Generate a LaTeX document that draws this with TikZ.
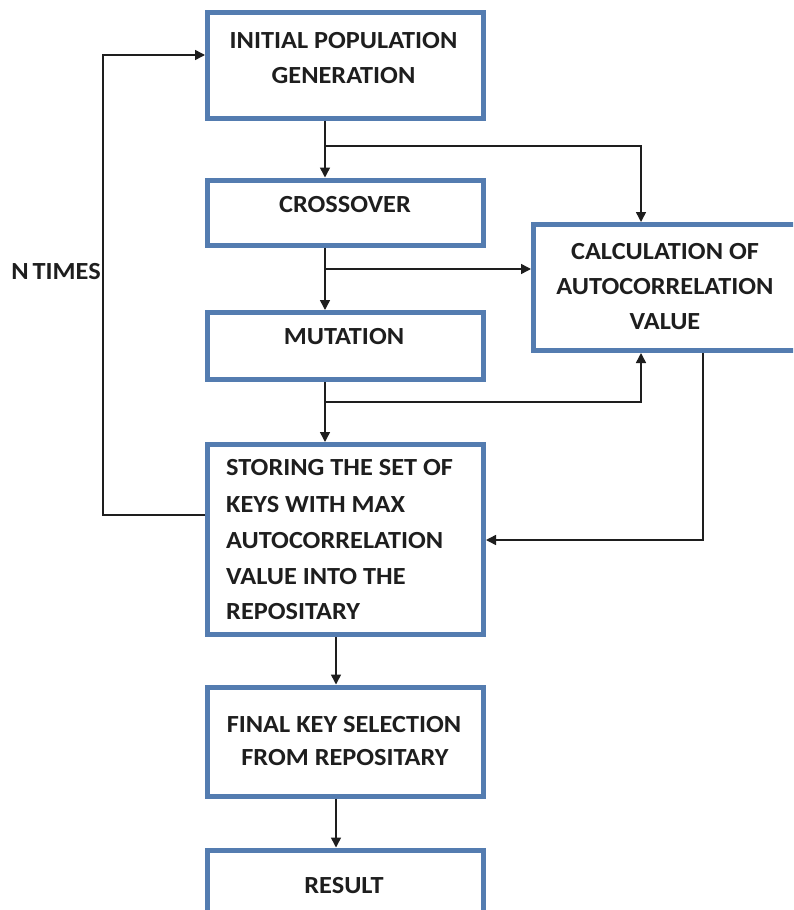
\documentclass[tikz,border=0pt]{standalone}
\usepackage{fontspec}
\setmainfont{Carlito}[FakeStretch=1.07]
\usetikzlibrary{arrows.meta,calc}
\definecolor{boxblue}{RGB}{84,124,176}
\definecolor{ink}{RGB}{30,30,30}
\tikzset{
  box/.style={draw=boxblue, line width=5pt, fill=white, inner sep=0pt, minimum width=276pt},
  lbl/.style={inner sep=0pt, text height=15.8pt, text depth=0pt, text=ink,
              font=\fontsize{24.6}{30}\selectfont\bfseries},
  conn/.style={draw=ink, line width=1.5pt},
  arr/.style={conn, -{Triangle[length=10pt,width=10pt]}}
}
\begin{document}
\begin{tikzpicture}[x=1pt,y=-1pt]
\useasboundingbox (0,0) rectangle (793,910);
\clip (0,0) rectangle (793,910);
\fill[white] (0,0) rectangle (793,910);
% boxes
\node[box, minimum height=106pt] (b1) at (345.5,65) {};
\node[box, minimum height=65pt] (b2) at (345.5,212.5) {};
\node[box, minimum height=67pt] (b4) at (345.5,346) {};
\node[box, minimum height=190pt] (b5) at (345.5,539.5) {};
\node[box, minimum height=109pt] (b6) at (345.5,741.5) {};
\node[box, minimum height=80pt] (b7) at (345.5,890) {};
\node[box, minimum width=286.5pt, minimum height=126pt] (b3) at (676.75,287.5) {};
% texts
\node[lbl] (t1a) at (343.5,41) {INITIAL POPULATION};
\node[lbl] (t1b) at (343.5,75.5) {GENERATION};
\node[lbl] (t2) at (345,205) {CROSSOVER};
\node[lbl] (t4) at (344,337) {MUTATION};
\node[lbl] (t3a) at (665,252) {CALCULATION OF};
\node[lbl] (t3b) at (665,287) {AUTOCORRELATION};
\node[lbl] (t3c) at (665,322) {VALUE};
\node[lbl, anchor=west] (t5a) at (226,468) {STORING THE SET OF};
\node[lbl, anchor=west] (t5b) at (226,505) {KEYS WITH MAX};
\node[lbl, anchor=west] (t5c) at (226,541) {AUTOCORRELATION};
\node[lbl, anchor=west] (t5d) at (226,577) {VALUE INTO THE};
\node[lbl, anchor=west] (t5e) at (226,612) {REPOSITARY};
\node[lbl] (t6a) at (344,724.5) {FINAL KEY SELECTION};
\node[lbl] (t6b) at (345,757.5) {FROM REPOSITARY};
\node[lbl] (t7) at (344,886) {RESULT};
\node[lbl] (nt) at (56,272) {N\hspace{-2pt} TIMES};
% helper coordinates
\coordinate (xa) at (325,0);
\coordinate (xb) at (641,0);
\coordinate (xc) at (703,0);
\coordinate (xd) at (336,0);
\coordinate (j1) at (325,146);
\coordinate (j2) at (325,269);
\coordinate (j3) at (325,402);
\coordinate (yk) at (0,540);
\coordinate (l1) at (103,515);
\coordinate (l2) at (103,55);
% connectors
\draw[arr] (b1.south -| xa) -- (b2.north -| xa);
\draw[arr] (j1) -| (b3.north -| xb);
\draw[arr] (b2.south -| xa) -- (b4.north -| xa);
\draw[arr] (j2) -- (b3.west |- j2);
\draw[arr] (b4.south -| xa) -- (b5.north -| xa);
\draw[arr] (j3) -| (b3.south -| xb);
\draw[arr] (b3.south -| xc) |- (b5.east |- yk);
\draw[arr] (b5.west |- l1) -- (l1) -- (l2) -- (b1.west |- l2);
\draw[arr] (b5.south -| xd) -- (b6.north -| xd);
\draw[arr] (b6.south -| xd) -- (b7.north -| xd);
\end{tikzpicture}
\end{document}
